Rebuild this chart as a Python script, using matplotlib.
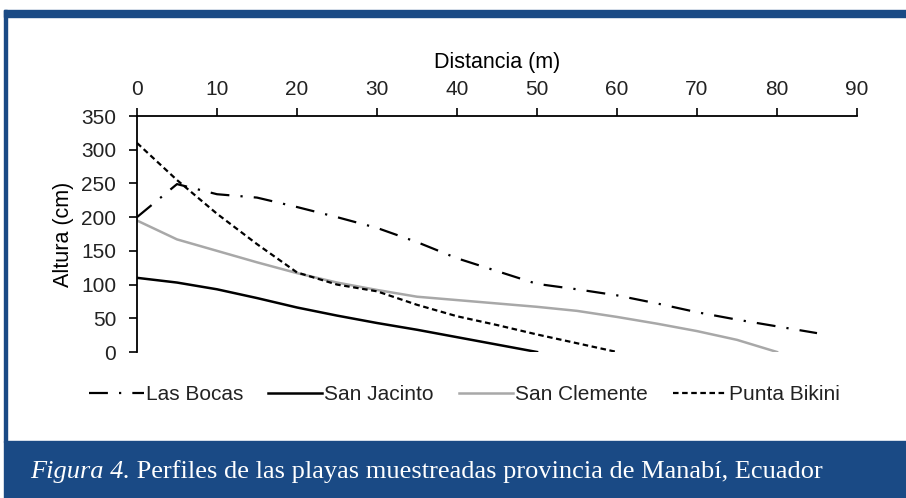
import matplotlib
matplotlib.use("Agg")
import matplotlib.pyplot as plt
from matplotlib.patches import Rectangle

# ------------------------------------------------------------------
las_bocas_x = [0, 5, 10, 15, 20, 25, 30, 35, 40, 45, 50, 55, 60, 65, 70, 75, 80, 85]
las_bocas_y = [200, 249, 234, 229, 215, 200, 184, 163, 139, 120, 101, 93, 84, 72, 59, 48, 38, 28]

san_jacinto_x = [0, 5, 10, 15, 20, 25, 30, 35, 40, 45, 50]
san_jacinto_y = [110, 103, 93, 80, 66, 54, 43, 33, 22, 11, 0]

san_clemente_x = [0, 5, 10, 15, 20, 25, 30, 35, 40, 45, 50, 55, 60, 65, 70, 75, 80]
san_clemente_y = [195, 167, 150, 133, 117, 103, 92, 82, 77, 72, 67, 61, 52, 42, 31, 18, 0]

punta_bikini_x = [0, 5, 10, 15, 20, 25, 30, 35, 40, 45, 50, 55, 60]
punta_bikini_y = [310, 255, 205, 160, 118, 100, 90, 70, 53, 40, 26, 13, 0]

labels = ["Las Bocas", "San Jacinto", "San Clemente", "Punta Bikini"]
x_ticks = list(range(0, 100, 10))
y_ticks = list(range(0, 400, 50))
caption_italic = "Figura 4."
caption_rest = " Perfiles de las playas muestreadas provincia de Manabí, Ecuador"
# ------------------------------------------------------------------

W, H = 906, 498
blue = "#1a4a85"
plt.rcParams["font.family"] = ["Liberation Sans", "DejaVu Sans"]
plt.rcParams["text.color"] = "#222222"

fig = plt.figure(figsize=(W / 100, H / 100), dpi=100)

# frame and caption band
fig.patches.append(Rectangle((4 / W, 1 - 17 / H), 1, 7 / H, transform=fig.transFigure,
                             color=blue, zorder=0))
fig.patches.append(Rectangle((4 / W, 1 - 442 / H), 3 / W, 432 / H, transform=fig.transFigure,
                             color=blue, zorder=0))
fig.patches.append(Rectangle((4 / W, 0), 1, 1 - 441 / H, transform=fig.transFigure,
                             color=blue, zorder=0))

ax = fig.add_axes([137 / W, 1 - 352 / H, 720 / W, 236 / H])
ax.set_zorder(2)
ax.patch.set_alpha(0)

ax.plot(las_bocas_x, las_bocas_y, color="black", lw=1.6, dashes=(8.5, 5, 1, 5),
        label=labels[0])
ax.plot(san_jacinto_x, san_jacinto_y, color="black", lw=1.8, label=labels[1])
ax.plot(san_clemente_x, san_clemente_y, color="#a8a8a8", lw=1.8, label=labels[2])
ax.plot(punta_bikini_x, punta_bikini_y, color="black", lw=1.6, dashes=(2.5, 1.6),
        label=labels[3])

ax.set_xlim(0, 90)
ax.set_ylim(0, 350)
ax.set_xticks(x_ticks)
ax.set_yticks(y_ticks)
ax.xaxis.tick_top()
ax.xaxis.set_label_position("top")
ax.spines["bottom"].set_visible(False)
ax.spines["right"].set_visible(False)
for s in ["top", "left"]:
    ax.spines[s].set_linewidth(1.3)
ax.tick_params(axis="both", direction="out", length=6, width=1.2, labelsize=15,
               colors="black", labelcolor="#222222")
ax.tick_params(axis="x", pad=6)
ax.tick_params(axis="y", pad=9)
ax.set_xlabel("Distancia (m)", fontsize=15.5, labelpad=9)
ax.set_ylabel("Altura (cm)", fontsize=15.5, labelpad=5)

leg = ax.legend(loc="upper center", bbox_to_anchor=(0.455, -0.06), ncol=4, frameon=False,
                fontsize=15, handlelength=2.6, handletextpad=0.1, columnspacing=1.2)

t1 = fig.text(30 / W, 1 - 483 / H, caption_italic, color="white", fontsize=19,
              family="Liberation Serif", style="italic", va="bottom")
ax.annotate(caption_rest, xy=(1, 0), xycoords=t1, va="bottom", ha="left", color="white",
            fontsize=19, family="Liberation Serif", annotation_clip=False)

fig.savefig("out.png", dpi=100)
